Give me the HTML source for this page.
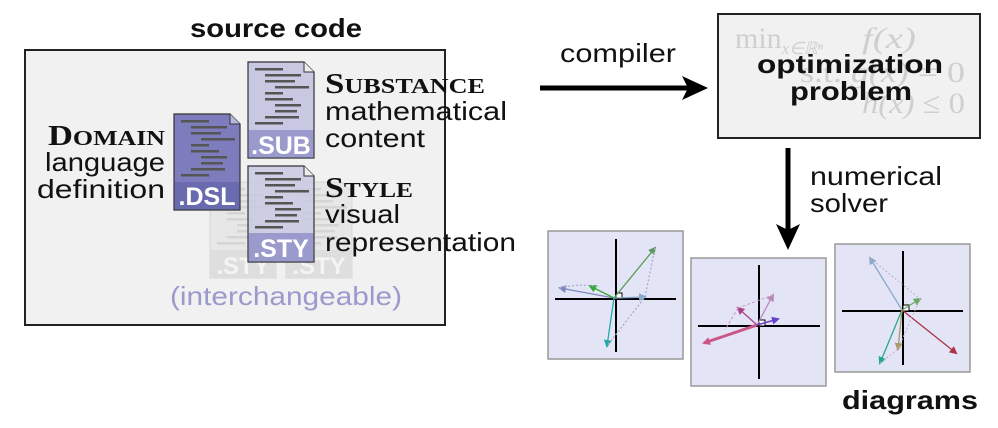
<!DOCTYPE html>
<html><head><meta charset="utf-8"><style>
body{margin:0;background:#fff}
svg{display:block}
.t{font-family:"Liberation Sans",sans-serif;font-size:26px;fill:#111}
.sc{font-family:"Liberation Serif",serif;font-weight:bold;fill:#111}
.b{font-family:"Liberation Sans",sans-serif;font-weight:bold;fill:#111}
</style></head><body>
<svg width="998" height="428" viewBox="0 0 998 428" xmlns="http://www.w3.org/2000/svg">
<defs>
<g id="ln" fill="#555">
<rect x="7" y="6" width="28" height="2.5"/><rect x="17" y="12" width="36" height="2.5"/>
<rect x="17" y="18" width="30" height="2.5"/><rect x="27" y="24" width="34" height="2.5"/>
<rect x="17" y="30" width="18" height="2.5"/><rect x="17" y="36" width="28" height="2.5"/>
<rect x="27" y="42" width="26" height="2.5"/><rect x="27" y="48" width="22" height="2.5"/>
<rect x="17" y="54" width="34" height="2.5"/><rect x="7" y="60" width="28" height="2.5"/>
</g>
<marker id="ah" markerWidth="8" markerHeight="8" refX="6" refY="4" orient="auto" markerUnits="userSpaceOnUse"><path d="M0,0 L8,4 L0,8z" fill="context-stroke"/></marker>
</defs>
<text x="190" y="37" class="b" font-size="26" textLength="172" lengthAdjust="spacingAndGlyphs">source code</text>
<rect x="25" y="50" width="420" height="275" fill="#f1f1f1" stroke="#222" stroke-width="2"/>
<g opacity="0.25">
<path d="M210,182 h56 l10,10 v86 h-66z" fill="#ccc" stroke="#888"/>
<use href="#ln" x="210" y="182" opacity="0.6"/>
<rect x="210" y="250" width="66" height="28" fill="#aaa"/>
<text x="243" y="274" text-anchor="middle" class="b" font-size="24" style="fill:#fff">.STY</text>
<path d="M286,182 h56 l10,10 v86 h-66z" fill="#ccc" stroke="#888"/>
<use href="#ln" x="286" y="182" opacity="0.6"/>
<rect x="286" y="250" width="66" height="28" fill="#aaa"/>
<text x="319" y="274" text-anchor="middle" class="b" font-size="24" style="fill:#fff">.STY</text>
</g>
<path d="M174,114 h56 l10,10 v86 h-66z" fill="#7d7dbd" stroke="#333" stroke-width="1.2"/>
<path d="M230,114 v10 h10" fill="#b8b8dd" stroke="#333" stroke-width="1"/>
<use href="#ln" x="174" y="114"/>
<rect x="174.5" y="182" width="65" height="27.5" fill="#6a6aae"/>
<text x="207" y="205" text-anchor="middle" class="b" font-size="25" style="fill:#fff">.DSL</text>
<path d="M248,62 h56 l10,10 v86 h-66z" fill="#c8c8e2" stroke="#333" stroke-width="1.2"/>
<path d="M304,62 v10 h10" fill="#eee" stroke="#333" stroke-width="1"/>
<use href="#ln" x="248" y="62"/>
<rect x="248.5" y="130" width="65" height="27.5" fill="#9a9acc"/>
<text x="281" y="154" text-anchor="middle" class="b" font-size="25" style="fill:#fff">.SUB</text>
<path d="M248,166 h56 l10,10 v86 h-66z" fill="#c8c8e2" fill-opacity="0.85" stroke="#333" stroke-width="1.2"/>
<path d="M304,166 v10 h10" fill="#eee" stroke="#333" stroke-width="1"/>
<use href="#ln" x="248" y="166"/>
<rect x="248.5" y="233" width="65" height="28.5" fill="#9a9acc"/>
<text x="281" y="257" text-anchor="middle" class="b" font-size="25" style="fill:#fff">.STY</text>
<text x="48" y="145" class="sc" font-size="28" textLength="117" lengthAdjust="spacingAndGlyphs">D<tspan font-size="21">OMAIN</tspan></text>
<text x="45" y="171" class="t" textLength="120" lengthAdjust="spacingAndGlyphs">language</text>
<text x="37" y="198" class="t" textLength="128" lengthAdjust="spacingAndGlyphs">definition</text>
<text x="325" y="93" class="sc" font-size="28" textLength="160" lengthAdjust="spacingAndGlyphs">S<tspan font-size="21">UBSTANCE</tspan></text>
<text x="325" y="120" class="t" textLength="182" lengthAdjust="spacingAndGlyphs">mathematical</text>
<text x="325" y="147" class="t" textLength="100" lengthAdjust="spacingAndGlyphs">content</text>
<text x="325" y="197" class="sc" font-size="28" textLength="88" lengthAdjust="spacingAndGlyphs">S<tspan font-size="21">TYLE</tspan></text>
<text x="325" y="223" class="t" textLength="75" lengthAdjust="spacingAndGlyphs">visual</text>
<text x="325" y="251" class="t" textLength="191" lengthAdjust="spacingAndGlyphs">representation</text>
<text x="170" y="305" class="t" style="fill:#9a9acc" textLength="232" lengthAdjust="spacingAndGlyphs">(interchangeable)</text>
<text x="560" y="62" class="t" textLength="116" lengthAdjust="spacingAndGlyphs">compiler</text>
<line x1="540" y1="88" x2="690" y2="88" stroke="#000" stroke-width="5"/>
<path d="M682,76 L708,88 L682,100 L688,88z" fill="#000"/>
<rect x="718" y="14" width="262" height="124" fill="#f1f1f1" stroke="#222" stroke-width="2"/>
<g font-family="Liberation Serif,serif" font-size="30" fill="#cfcfcf">
<text x="735" y="48">min<tspan font-size="17" dy="6" font-style="italic">x∈ℝⁿ</tspan></text>
<text x="862" y="48" font-style="italic" textLength="54" lengthAdjust="spacingAndGlyphs">f(x)</text>
<text x="800" y="82" textLength="165" lengthAdjust="spacingAndGlyphs">s.t. <tspan font-style="italic">g(x)</tspan> = 0</text>
<text x="862" y="113" textLength="103" lengthAdjust="spacingAndGlyphs"><tspan font-style="italic">h(x)</tspan> ≤ 0</text>
</g>
<text x="757" y="73" class="b" font-size="26" textLength="186" lengthAdjust="spacingAndGlyphs">optimization</text>
<text x="790" y="100" class="b" font-size="26" textLength="122" lengthAdjust="spacingAndGlyphs">problem</text>
<line x1="788" y1="148" x2="788" y2="232" stroke="#000" stroke-width="5"/>
<path d="M776,224 L788,250 L800,224 L788,230z" fill="#000"/>
<text x="810" y="185" class="t" textLength="132" lengthAdjust="spacingAndGlyphs">numerical</text>
<text x="810" y="212" class="t" textLength="78" lengthAdjust="spacingAndGlyphs">solver</text>
<g>
<rect x="548" y="231" width="135" height="128" fill="#e4e4f7" stroke="#999" stroke-width="1.5"/>
<line x1="616" y1="239" x2="616" y2="352" stroke="#000" stroke-width="2"/>
<line x1="555" y1="299" x2="676" y2="299" stroke="#000" stroke-width="2"/>
<rect x="616" y="293" width="6" height="6" fill="#fff" stroke="#000"/>
<g stroke-width="1.3" fill="none">
<line x1="614" y1="298" x2="655" y2="248" stroke="#5a9a5a" marker-end="url(#ah)"/>
<line x1="614" y1="298" x2="560" y2="288" stroke="#7a88bb" marker-end="url(#ah)"/>
<line x1="614" y1="298" x2="590" y2="286" stroke="#33aa33" marker-end="url(#ah)"/>
<line x1="614" y1="298" x2="607" y2="346" stroke="#22aaaa" marker-end="url(#ah)"/>
<line x1="614" y1="298" x2="645" y2="297" stroke="#88aacc" marker-end="url(#ah)"/>
<path d="M655,248 L645,297 L607,346 M560,288 Q580,283 600,287" stroke="#aac" stroke-dasharray="2 2"/>
</g>
</g>
<g>
<rect x="691" y="258" width="135" height="128" fill="#e4e4f7" stroke="#999" stroke-width="1.5"/>
<line x1="759" y1="265" x2="759" y2="379" stroke="#000" stroke-width="2"/>
<line x1="698" y1="326" x2="820" y2="326" stroke="#000" stroke-width="2"/>
<rect x="759" y="320" width="6" height="6" fill="#fff" stroke="#000"/>
<g fill="none">
<line x1="757" y1="325" x2="704" y2="343" stroke="#cc5588" stroke-width="3" marker-end="url(#ah)"/>
<line x1="757" y1="325" x2="738" y2="308" stroke="#aa4488" stroke-width="1.3" marker-end="url(#ah)"/>
<line x1="757" y1="325" x2="773" y2="295" stroke="#bb88bb" stroke-width="1.3" marker-end="url(#ah)"/>
<line x1="757" y1="325" x2="778" y2="319" stroke="#6644cc" stroke-width="1.5" marker-end="url(#ah)"/>
<path d="M738,308 L773,295 M738,308 L725,330" stroke="#cc99cc" stroke-width="1" stroke-dasharray="3 2"/>
</g>
</g>
<g>
<rect x="835" y="244" width="135" height="128" fill="#e4e4f7" stroke="#999" stroke-width="1.5"/>
<line x1="903" y1="251" x2="903" y2="365" stroke="#000" stroke-width="2"/>
<line x1="842" y1="311" x2="963" y2="311" stroke="#000" stroke-width="2"/>
<rect x="903" y="305" width="6" height="6" fill="#fff" stroke="#000"/>
<g fill="none" stroke-width="1.3">
<line x1="902" y1="310" x2="870" y2="258" stroke="#88aacc" marker-end="url(#ah)"/>
<line x1="902" y1="310" x2="920" y2="299" stroke="#66aa66" marker-end="url(#ah)"/>
<line x1="902" y1="310" x2="956" y2="353" stroke="#aa3344" marker-end="url(#ah)"/>
<line x1="902" y1="310" x2="880" y2="363" stroke="#22aa88" marker-end="url(#ah)"/>
<line x1="902" y1="310" x2="898" y2="349" stroke="#aa9966" marker-end="url(#ah)"/>
<path d="M870,258 L920,299 L898,349 L880,363" stroke="#cab" stroke-width="1" stroke-dasharray="2 2"/>
</g>
</g>
<text x="842" y="409" class="b" font-size="26" textLength="136" lengthAdjust="spacingAndGlyphs">diagrams</text>
</svg>
</body></html>
